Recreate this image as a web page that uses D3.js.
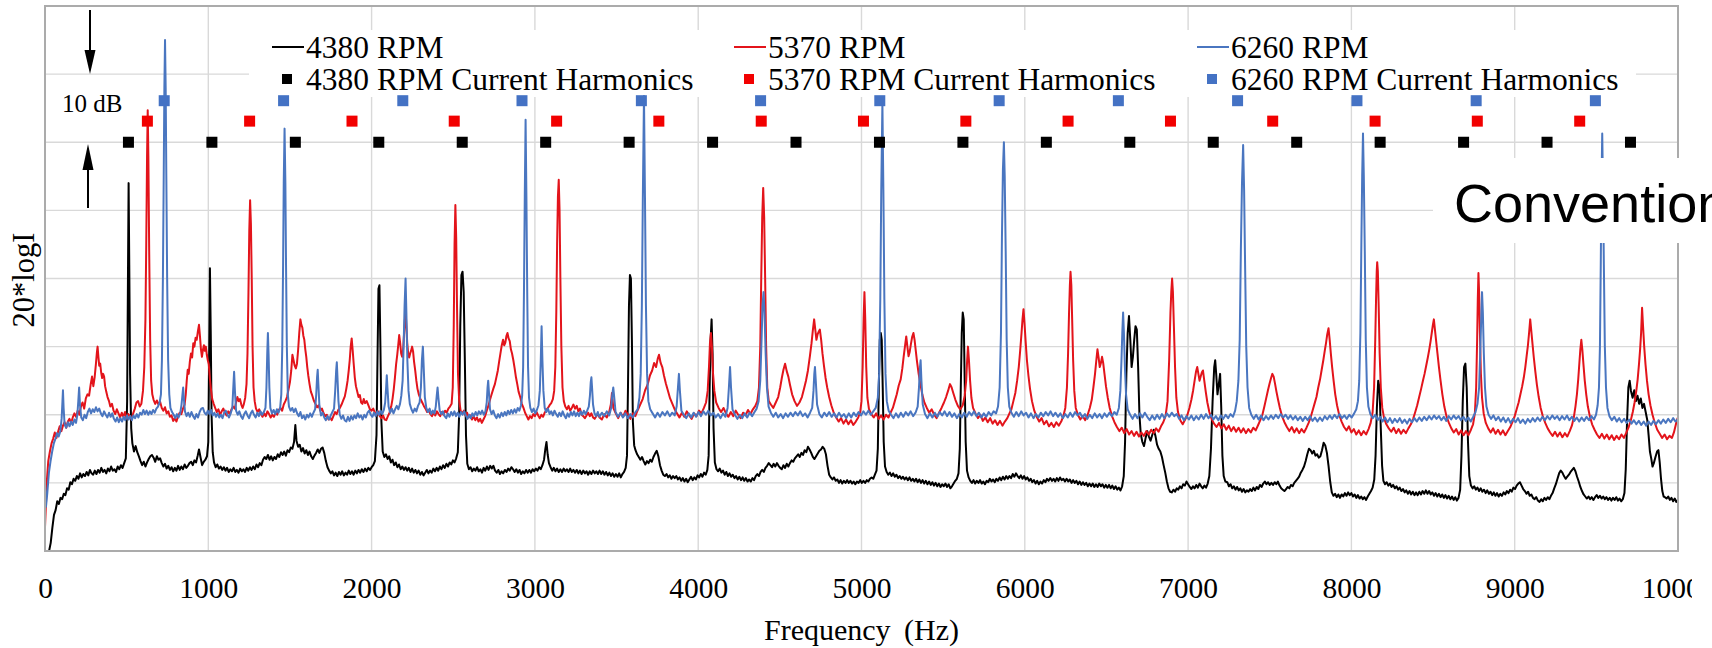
<!DOCTYPE html>
<html>
<head>
<meta charset="utf-8">
<script src="https://cdn.jsdelivr.net/npm/d3@7"></script>
<style>
  html, body { margin: 0; padding: 0; background: #fff; }
  svg { display: block; }
</style>
</head>
<body>
<script>
// ---- Data -------------------------------------------------------------
const seriesNames = ["4380 RPM", "5370 RPM", "6260 RPM"];
const harmonicNames = ["4380 RPM Current Harmonics", "5370 RPM Current Harmonics", "6260 RPM Current Harmonics"];
const xTickValues = [0, 1000, 2000, 3000, 4000, 5000, 6000, 7000, 8000, 9000, 10000];
const yGridValues = [0, 10, 20, 30, 40, 50, 60, 70, 80];

// Current-harmonic marker frequencies (Hz) and their plotted levels (dB)
const harmonics4380 = [511, 1022, 1533, 2044, 2555, 3066, 3577, 4088, 4599, 5110, 5621, 6132, 6643, 7154, 7665, 8176, 8687, 9198, 9709];
const harmonics5370 = [627, 1253, 1880, 2506, 3133, 3759, 4386, 5012, 5639, 6265, 6892, 7518, 8145, 8771, 9398];
const harmonics6260 = [730, 1461, 2191, 2921, 3652, 4382, 5112, 5843, 6573, 7303, 8034, 8764, 9494];
const harmonicLevels = [60, 63.1, 66.1];

// Spectra: [frequency Hz, 20*logI dB]
const spectrum4380 = [
[25,0],[35,1.2],[45,3.4],[55,5.3],[65,6.0],[75,7.3],[85,6.9],[95,7.8],[105,7.6],[115,8.4],[125,8.2],[135,9.2],[145,9.0],[155,10.1],[165,9.8],[175,10.6],[185,10.3],[195,11.0],[205,10.6],[215,11.4],[225,10.8],[235,11.3],[245,11.0],[255,11.6],[265,11.1],[275,11.9],[285,11.4],[295,11.2],[305,11.8],[315,11.3],[325,11.9],[335,11.5],[345,12.2],[355,11.6],[365,11.9],[375,11.4],[385,12.1],[395,11.7],[405,12.4],[415,11.8],[425,12.0],[435,11.6],[445,12.4],[455,12.0],[465,12.6],[475,12.2],[485,12.9],[495,13.6],[503,22],[508,40],[512,54],[516,42],[521,26],[528,18],[535,15.8],[545,14.6],[555,15.4],[565,14.5],[575,13.9],[585,13.2],[595,12.6],[605,13.1],[615,12.4],[625,13.0],[635,13.5],[645,13.9],[655,14.1],[665,13.7],[675,13.1],[685,13.9],[695,13.4],[705,13.6],[715,12.9],[725,12.4],[735,12.8],[745,12.1],[755,12.5],[765,11.9],[775,12.3],[785,11.7],[795,12.2],[805,11.8],[815,12.5],[825,11.9],[835,12.4],[845,12.0],[855,12.7],[865,12.2],[875,12.5],[885,12.9],[895,13.1],[905,12.6],[915,13.3],[925,13.0],[935,14.0],[943,14.9],[952,13.8],[962,12.6],[972,13.1],[982,13.4],[992,13.9],[1000,16],[1005,28],[1010,41.5],[1015,32],[1020,20],[1027,14.5],[1035,13.0],[1045,12.3],[1055,12.7],[1065,12.1],[1075,12.4],[1085,11.9],[1095,12.3],[1105,11.8],[1115,12.2],[1125,11.6],[1135,12.0],[1145,11.7],[1155,12.2],[1165,11.6],[1175,11.9],[1185,11.5],[1195,12.1],[1205,11.7],[1215,12.0],[1225,11.6],[1235,12.2],[1245,11.8],[1255,12.3],[1265,11.9],[1275,12.4],[1285,12.0],[1295,12.7],[1305,12.3],[1315,12.9],[1325,12.6],[1335,13.4],[1345,13.8],[1355,13.5],[1365,14.1],[1375,13.4],[1385,13.9],[1395,13.3],[1405,13.8],[1415,13.5],[1425,14.2],[1435,13.8],[1445,14.5],[1455,14.1],[1465,14.6],[1475,14.0],[1485,14.8],[1495,14.5],[1505,15.2],[1515,15.0],[1525,16.0],[1533,18.5],[1540,16.2],[1550,15.3],[1560,15.6],[1570,14.6],[1580,15.1],[1590,14.3],[1600,14.8],[1610,14.1],[1620,14.6],[1630,13.9],[1640,13.5],[1650,14.0],[1660,14.4],[1670,14.9],[1680,14.4],[1690,15.0],[1700,15.2],[1710,14.4],[1720,13.2],[1730,12.3],[1740,11.8],[1750,11.4],[1760,11.7],[1770,11.1],[1780,11.5],[1790,11.0],[1800,11.6],[1810,11.2],[1820,11.7],[1830,11.1],[1840,11.5],[1850,11.2],[1860,11.8],[1870,11.3],[1880,11.7],[1890,11.2],[1900,11.8],[1910,11.4],[1920,11.9],[1930,11.5],[1940,12.0],[1950,11.6],[1960,12.1],[1970,11.7],[1980,12.2],[1990,11.9],[2000,12.3],[2010,12.6],[2020,13.2],[2030,17],[2036,28],[2042,38.5],[2048,39],[2054,30],[2060,19],[2068,14.6],[2078,13.8],[2088,14.2],[2098,13.5],[2108,13.9],[2118,13.0],[2128,13.4],[2138,12.6],[2148,13.0],[2158,12.3],[2168,12.7],[2178,12.0],[2188,12.4],[2198,11.9],[2208,12.3],[2218,11.8],[2228,12.2],[2238,11.6],[2248,12.1],[2258,11.5],[2268,11.9],[2278,11.4],[2288,11.8],[2298,11.2],[2308,11.6],[2318,11.1],[2328,11.5],[2338,11.9],[2348,11.4],[2358,11.8],[2368,11.5],[2378,12.1],[2388,11.7],[2398,12.2],[2408,11.8],[2418,12.4],[2428,12.0],[2438,12.6],[2448,12.2],[2458,12.8],[2468,12.4],[2478,13.0],[2488,12.7],[2498,13.3],[2508,13.0],[2518,13.6],[2528,14.5],[2536,20],[2543,33],[2550,40.5],[2557,41],[2564,38],[2571,28],[2578,17],[2586,12.8],[2596,12.0],[2606,12.3],[2616,11.7],[2626,12.1],[2636,11.8],[2646,12.3],[2656,11.7],[2666,12.0],[2676,11.5],[2686,12.2],[2696,11.8],[2706,12.4],[2716,11.9],[2726,12.5],[2736,12.1],[2746,12.5],[2756,11.8],[2766,11.5],[2776,11.9],[2786,11.3],[2796,11.7],[2806,11.4],[2816,11.9],[2826,11.6],[2836,12.1],[2846,11.8],[2856,12.3],[2866,12.0],[2876,11.6],[2886,12.0],[2896,11.5],[2906,11.9],[2916,11.3],[2926,11.7],[2936,11.4],[2946,11.9],[2956,11.5],[2966,11.9],[2976,11.5],[2986,12.0],[2996,11.7],[3006,12.1],[3016,11.8],[3026,12.3],[3036,12.0],[3046,12.6],[3056,13.4],[3064,15.0],[3071,16.0],[3078,14.2],[3086,12.9],[3096,12.3],[3106,11.8],[3116,12.2],[3126,11.7],[3136,12.1],[3146,11.6],[3156,12.0],[3166,11.6],[3176,12.1],[3186,11.7],[3196,12.0],[3206,11.6],[3216,12.1],[3226,11.6],[3236,11.9],[3246,11.5],[3256,11.9],[3266,11.4],[3276,11.8],[3286,11.3],[3296,11.8],[3306,11.4],[3316,11.7],[3326,11.2],[3336,11.7],[3346,11.3],[3356,11.8],[3366,11.4],[3376,11.7],[3386,11.3],[3396,11.8],[3406,11.3],[3416,11.7],[3426,11.2],[3436,11.6],[3446,11.1],[3456,11.5],[3466,11.0],[3476,11.4],[3486,10.9],[3496,11.3],[3506,10.9],[3516,11.4],[3526,10.8],[3536,11.3],[3546,11.6],[3556,12.2],[3564,14],[3570,24],[3576,36],[3582,40.5],[3588,40],[3594,31],[3600,19],[3608,15.5],[3616,14.8],[3626,14.2],[3636,13.8],[3646,13.4],[3656,13.8],[3666,13.2],[3676,12.7],[3686,13.2],[3696,12.9],[3706,13.4],[3716,13.1],[3726,13.8],[3736,14.3],[3746,14.7],[3756,13.9],[3766,12.6],[3776,11.8],[3786,11.2],[3796,11.0],[3806,11.3],[3816,10.8],[3826,11.1],[3836,10.6],[3846,11.0],[3856,10.7],[3866,11.0],[3876,10.5],[3886,10.8],[3896,10.3],[3906,10.7],[3916,10.2],[3926,10.6],[3936,10.1],[3946,10.5],[3956,10.9],[3966,10.4],[3976,10.8],[3986,10.5],[3996,11.1],[4006,10.8],[4016,11.3],[4026,10.9],[4036,11.5],[4046,11.2],[4056,11.9],[4064,14],[4070,24],[4076,31],[4082,34],[4088,29],[4094,18],[4102,13.0],[4112,12.0],[4122,11.7],[4132,12.1],[4142,11.5],[4152,11.8],[4162,11.2],[4172,11.6],[4182,11.0],[4192,11.4],[4202,10.9],[4212,11.2],[4222,10.7],[4232,11.0],[4242,10.5],[4252,10.9],[4262,10.4],[4272,10.8],[4282,10.3],[4292,10.7],[4302,10.2],[4312,10.5],[4322,10.2],[4332,10.7],[4342,10.4],[4352,11.0],[4362,11.3],[4372,11.0],[4382,11.6],[4392,11.9],[4402,11.6],[4412,12.2],[4422,12.5],[4432,12.9],[4442,12.6],[4452,12.3],[4462,12.8],[4472,12.4],[4482,12.9],[4492,12.5],[4502,12.2],[4512,12.0],[4522,12.6],[4532,12.2],[4542,12.8],[4552,12.4],[4562,12.9],[4572,13.3],[4582,13.1],[4592,13.6],[4602,13.9],[4612,14.2],[4622,13.8],[4632,14.4],[4642,14.1],[4652,14.8],[4662,14.5],[4672,15.3],[4682,14.9],[4692,14.4],[4702,13.8],[4712,13.5],[4722,13.9],[4732,14.3],[4742,14.7],[4752,14.9],[4762,15.3],[4772,15.0],[4782,14.2],[4792,12.5],[4802,11.2],[4812,10.8],[4822,10.5],[4832,10.8],[4842,10.3],[4852,10.5],[4862,10.0],[4872,10.4],[4882,9.9],[4892,10.3],[4902,10.0],[4912,10.4],[4922,10.0],[4932,10.3],[4942,9.9],[4952,10.2],[4962,9.8],[4972,10.2],[4982,10.0],[4992,10.4],[5002,10.0],[5012,10.3],[5022,10.0],[5032,10.4],[5042,10.2],[5052,10.6],[5062,10.8],[5072,10.6],[5082,11.2],[5092,11.8],[5100,15],[5106,24],[5112,31],[5118,32],[5124,31],[5130,24],[5136,16],[5144,12.4],[5154,11.6],[5164,11.2],[5174,11.5],[5184,11.0],[5194,11.4],[5204,10.9],[5214,11.2],[5224,10.7],[5234,11.0],[5244,10.6],[5254,10.9],[5264,10.5],[5274,10.8],[5284,10.4],[5294,10.8],[5304,10.3],[5314,10.6],[5324,10.2],[5334,10.6],[5344,10.1],[5354,10.5],[5364,10.0],[5374,10.4],[5384,9.9],[5394,10.3],[5404,9.8],[5414,10.2],[5424,9.7],[5434,10.1],[5444,9.6],[5454,10.0],[5464,9.5],[5474,9.9],[5484,9.4],[5494,9.8],[5504,9.5],[5514,9.9],[5524,9.4],[5534,9.8],[5544,9.2],[5554,9.5],[5564,9.9],[5574,10.3],[5584,10.6],[5594,11.4],[5602,15],[5608,24],[5614,32],[5620,35],[5626,34],[5632,25],[5638,16],[5646,11.8],[5656,10.8],[5666,10.3],[5676,10.0],[5686,10.4],[5696,9.9],[5706,10.3],[5716,10.0],[5726,10.4],[5736,9.9],[5746,10.2],[5756,9.8],[5766,10.3],[5776,10.1],[5786,10.6],[5796,10.2],[5806,10.5],[5816,10.1],[5826,10.6],[5836,10.3],[5846,10.8],[5856,10.4],[5866,10.9],[5876,10.5],[5886,11.0],[5896,10.6],[5906,11.0],[5916,10.7],[5926,11.3],[5936,10.9],[5946,11.4],[5956,11.0],[5966,10.7],[5976,11.1],[5986,10.6],[5996,11.0],[6006,10.5],[6016,10.8],[6026,10.3],[6036,10.6],[6046,10.1],[6056,10.4],[6066,9.9],[6076,10.3],[6086,9.8],[6096,10.2],[6106,9.9],[6116,10.4],[6126,10.1],[6136,10.6],[6146,10.3],[6156,10.7],[6166,10.3],[6176,10.6],[6186,10.2],[6196,10.7],[6206,10.3],[6216,10.8],[6226,10.4],[6236,10.6],[6246,10.2],[6256,10.6],[6266,10.2],[6276,10.5],[6286,10.0],[6296,10.4],[6306,10.0],[6316,10.3],[6326,9.8],[6336,10.2],[6346,9.7],[6356,10.1],[6366,9.7],[6376,10.0],[6386,9.5],[6396,9.9],[6406,9.5],[6416,9.9],[6426,9.4],[6436,9.8],[6446,9.4],[6456,9.9],[6466,9.5],[6476,9.8],[6486,9.3],[6496,9.7],[6506,9.3],[6516,9.7],[6526,9.2],[6536,9.6],[6546,9.1],[6556,9.5],[6566,9.0],[6576,9.3],[6586,8.9],[6596,9.5],[6606,11],[6614,16],[6622,26],[6630,32],[6638,34.5],[6646,31],[6654,27],[6662,28.5],[6670,31],[6678,33],[6686,32.5],[6694,27],[6702,20],[6710,17.2],[6720,16.0],[6730,15.4],[6740,16.6],[6750,17.6],[6760,16.8],[6770,16.2],[6780,17.0],[6790,17.8],[6800,16.9],[6810,15.6],[6820,15.0],[6830,14.6],[6840,13.8],[6850,12.6],[6860,11.5],[6870,10.2],[6880,9.2],[6890,8.7],[6900,8.6],[6910,9.0],[6920,8.7],[6930,9.2],[6940,9.0],[6950,9.5],[6960,9.2],[6970,9.8],[6980,9.6],[6990,10.2],[7000,9.8],[7010,9.4],[7020,9.1],[7030,9.5],[7040,9.2],[7050,9.7],[7060,9.3],[7070,9.9],[7080,9.5],[7090,9.2],[7100,9.6],[7110,9.3],[7120,9.9],[7130,11],[7140,15],[7150,22],[7160,27],[7166,28],[7172,26],[7180,23],[7188,24.5],[7196,26],[7203,21],[7210,14],[7218,11],[7228,10.2],[7240,10.1],[7250,9.5],[7260,9.8],[7270,9.2],[7280,9.5],[7290,9.0],[7300,9.4],[7310,8.9],[7320,9.2],[7330,8.7],[7340,9.1],[7350,8.6],[7360,8.9],[7370,8.7],[7380,9.1],[7390,8.8],[7400,9.3],[7410,8.9],[7420,9.4],[7430,9.1],[7440,9.7],[7450,9.4],[7460,9.9],[7470,10.2],[7480,9.8],[7490,10.1],[7500,9.7],[7510,10.0],[7520,9.7],[7530,10.1],[7540,9.8],[7550,10.2],[7560,9.6],[7570,9.2],[7580,9.0],[7590,8.8],[7600,9.1],[7610,9.4],[7620,9.2],[7630,9.7],[7640,9.5],[7650,10.0],[7660,10.3],[7670,10.6],[7680,10.9],[7690,11.5],[7700,11.9],[7710,12.4],[7720,13.2],[7730,14.2],[7740,15.0],[7750,14.8],[7760,14.3],[7770,14.7],[7780,14.0],[7790,14.2],[7800,13.7],[7810,13.9],[7820,14.8],[7830,15.9],[7840,15.5],[7850,14.4],[7860,12.5],[7870,10.2],[7880,8.6],[7890,8.1],[7900,8.4],[7910,7.9],[7920,8.3],[7930,7.8],[7940,8.3],[7950,8.0],[7960,8.5],[7970,8.1],[7980,8.6],[7990,8.2],[8000,8.5],[8010,8.0],[8020,8.3],[8030,7.8],[8040,8.2],[8050,7.7],[8060,8.0],[8070,7.6],[8080,7.9],[8090,7.5],[8100,8.0],[8110,8.4],[8120,8.8],[8130,9.3],[8140,10.5],[8148,14],[8156,21],[8164,25],[8172,24],[8180,18],[8188,12.5],[8196,10.3],[8206,9.8],[8216,10.1],[8226,9.6],[8236,9.9],[8246,9.4],[8256,9.7],[8266,9.2],[8276,9.5],[8286,9.0],[8296,9.3],[8306,8.8],[8316,9.1],[8326,8.6],[8336,8.9],[8346,8.4],[8356,8.8],[8366,8.3],[8376,8.7],[8386,8.2],[8396,8.6],[8406,8.2],[8416,8.7],[8426,8.3],[8436,8.8],[8446,8.4],[8456,8.9],[8466,8.4],[8476,8.8],[8486,8.3],[8496,8.6],[8506,8.1],[8516,8.5],[8526,8.0],[8536,8.4],[8546,7.9],[8556,8.3],[8566,7.8],[8576,8.2],[8586,7.7],[8596,8.1],[8606,7.6],[8616,8.0],[8626,7.5],[8636,7.9],[8646,7.4],[8656,7.8],[8666,9],[8674,14],[8682,22],[8690,27],[8698,27.5],[8706,24],[8714,16],[8722,11],[8732,9.6],[8742,9.2],[8752,9.5],[8762,9.0],[8772,9.3],[8782,8.8],[8792,9.2],[8802,8.7],[8812,9.0],[8822,8.5],[8832,8.9],[8842,8.4],[8852,8.7],[8862,8.2],[8872,8.6],[8882,8.1],[8892,8.5],[8902,8.0],[8912,8.4],[8922,8.1],[8932,8.6],[8942,8.3],[8952,8.8],[8962,8.5],[8972,9.0],[8982,8.7],[8992,9.3],[9002,9.1],[9012,9.6],[9022,9.9],[9032,10.1],[9042,9.6],[9052,9.1],[9062,8.8],[9072,8.4],[9082,8.7],[9092,8.1],[9102,8.3],[9112,7.8],[9122,7.6],[9132,7.9],[9142,7.4],[9152,7.2],[9162,7.6],[9172,7.3],[9182,7.8],[9192,7.5],[9202,7.9],[9212,7.6],[9222,8.1],[9232,8.5],[9242,9.2],[9252,9.8],[9262,10.6],[9272,11.4],[9282,11.8],[9292,11.5],[9302,11.0],[9312,10.6],[9322,10.9],[9332,11.2],[9342,11.6],[9352,11.9],[9362,12.2],[9372,11.7],[9382,10.9],[9392,10.2],[9402,9.4],[9412,8.8],[9422,8.3],[9432,8.0],[9442,7.7],[9452,8.0],[9462,7.6],[9472,7.9],[9482,7.5],[9492,7.9],[9502,8.2],[9512,7.8],[9522,8.1],[9532,7.7],[9542,8.0],[9552,7.6],[9562,7.9],[9572,7.5],[9582,7.8],[9592,7.4],[9602,7.8],[9612,7.5],[9622,7.9],[9632,7.4],[9642,7.7],[9652,7.3],[9662,7.6],[9672,8.5],[9680,12],[9688,19],[9696,24],[9704,25],[9712,23.5],[9722,22.5],[9732,23.6],[9742,22.0],[9752,22.8],[9762,21.6],[9772,22.4],[9782,21.0],[9792,21.6],[9802,20.4],[9812,19.2],[9820,17.0],[9828,14.6],[9836,13.6],[9844,12.4],[9852,12.9],[9862,13.8],[9872,14.6],[9880,14.8],[9888,13.0],[9896,10.6],[9904,8.8],[9912,8.0],[9920,7.9],[9930,7.7],[9940,8.0],[9950,7.5],[9960,7.8],[9970,7.3],[9980,7.7],[9990,7.2],[10000,7.5]
];

const spectrum5370 = [
[0,3.5],[6,7],[12,10.5],[20,13.2],[30,14.6],[40,15.8],[50,16.5],[60,17.4],[70,16.6],[80,17.5],[90,18.3],[100,17.6],[110,18.4],[120,18.9],[130,18.1],[140,19.0],[150,19.4],[160,18.8],[170,19.6],[180,20.2],[190,19.7],[200,20.6],[210,20.0],[220,21.2],[230,21.8],[240,20.9],[250,22.4],[260,23.0],[270,22.8],[280,24.5],[288,25.6],[296,24.2],[304,25.5],[312,27.5],[318,29.2],[322,30.0],[327,28.5],[332,27.2],[338,27.5],[344,26.2],[350,25.4],[356,26.0],[362,25.6],[368,24.2],[375,23.4],[383,22.6],[392,22.0],[400,21.2],[410,21.6],[420,20.6],[430,20.1],[440,20.8],[450,20.2],[460,19.6],[470,20.3],[480,19.7],[490,20.4],[500,19.4],[510,20.1],[520,19.8],[530,19.3],[540,20.2],[550,20.9],[560,21.8],[570,22.0],[580,21.2],[590,21.6],[600,23.5],[608,27],[615,34],[620,45],[625,58],[629,64.7],[633,58],[638,44],[644,31],[650,25],[657,23],[665,22.2],[675,21.6],[685,22.1],[695,21.5],[705,21.9],[715,21.0],[725,20.6],[735,21.1],[745,20.2],[755,20.5],[765,19.7],[775,19.9],[785,19.1],[795,19.5],[805,19.0],[815,19.8],[825,20.3],[835,20.1],[845,20.9],[855,21.5],[862,23.0],[868,25.0],[874,26.6],[880,26.0],[887,27.8],[894,29.0],[901,28.4],[908,30.5],[915,30.0],[922,31.3],[929,31.0],[936,32.2],[943,33.2],[949,31.5],[955,29.6],[961,28.5],[967,29.5],[973,30.2],[979,29.4],[985,30.0],[991,28.8],[997,28.0],[1003,27.4],[1009,25.5],[1016,23.8],[1024,22.3],[1033,21.6],[1042,21.0],[1052,20.4],[1062,20.8],[1072,20.0],[1082,20.5],[1092,20.9],[1102,20.3],[1112,19.9],[1122,20.5],[1132,20.1],[1142,20.8],[1152,21.2],[1162,20.9],[1170,21.8],[1178,22.6],[1186,22.0],[1194,22.3],[1202,21.5],[1210,21.0],[1218,21.6],[1226,22.5],[1234,24.5],[1240,29],[1246,38],[1251,47],[1256,51.5],[1261,48],[1266,40],[1271,30],[1277,24],[1284,22],[1292,20.9],[1302,20.4],[1312,20.8],[1322,20.1],[1332,19.7],[1342,20.2],[1352,19.8],[1362,20.5],[1372,20.1],[1382,19.6],[1392,20.0],[1402,19.7],[1412,20.3],[1422,20.0],[1432,20.7],[1442,21.0],[1452,20.6],[1462,21.5],[1472,22.0],[1482,22.6],[1492,23.8],[1500,24.8],[1508,26.5],[1515,28.8],[1522,28.0],[1529,27.2],[1536,26.8],[1543,27.5],[1550,29.5],[1557,32.0],[1564,34.0],[1570,33.2],[1576,32.8],[1582,31.6],[1588,31.0],[1594,29.6],[1600,28.5],[1606,27.0],[1612,25.8],[1620,24.5],[1628,23.4],[1637,22.8],[1646,22.1],[1656,21.6],[1666,21.1],[1676,21.4],[1686,20.6],[1696,20.9],[1706,20.2],[1716,19.8],[1726,20.0],[1736,19.3],[1746,19.6],[1756,19.2],[1766,19.8],[1776,20.4],[1786,20.1],[1796,20.7],[1806,21.0],[1816,21.5],[1826,22.1],[1836,22.7],[1845,23.8],[1853,25.0],[1860,26.5],[1866,28.0],[1872,30.0],[1878,31.2],[1884,29.5],[1890,27.6],[1897,25.5],[1904,24.2],[1912,23.4],[1920,22.6],[1928,22.9],[1936,21.8],[1944,21.6],[1952,22.3],[1960,21.7],[1970,22.0],[1980,21.4],[1990,20.8],[2000,20.6],[2010,20.9],[2020,20.3],[2030,20.0],[2040,20.5],[2050,19.8],[2060,19.5],[2070,19.9],[2080,19.3],[2090,19.2],[2100,19.8],[2110,20.3],[2120,21.2],[2128,22.3],[2136,23.8],[2143,25.5],[2150,27.4],[2157,28.8],[2163,30.2],[2169,31.7],[2175,30.5],[2181,29.0],[2187,28.5],[2193,29.6],[2199,32.0],[2204,34.0],[2208,35.4],[2213,33.0],[2218,30.6],[2224,29.0],[2230,28.4],[2236,29.0],[2242,29.4],[2248,30.0],[2254,29.3],[2260,27.8],[2267,26.5],[2274,25.0],[2281,23.8],[2290,22.9],[2300,22.3],[2310,21.8],[2320,21.3],[2330,20.9],[2340,20.4],[2350,20.7],[2360,20.1],[2370,19.8],[2380,20.3],[2390,19.9],[2400,20.5],[2410,20.1],[2420,19.8],[2430,20.4],[2440,20.0],[2450,20.6],[2460,20.3],[2470,20.9],[2480,21.2],[2490,21.6],[2497,24],[2503,33],[2508,45],[2513,50.8],[2518,46],[2523,36],[2529,26],[2536,22.2],[2545,20.6],[2555,20.2],[2565,20.6],[2575,19.9],[2585,20.3],[2595,19.6],[2605,19.9],[2615,19.3],[2625,19.8],[2635,19.2],[2645,19.6],[2655,19.0],[2665,19.4],[2675,18.8],[2685,19.3],[2695,19.8],[2705,20.6],[2715,21.3],[2725,22.2],[2735,23.0],[2745,23.8],[2755,24.5],[2765,25.6],[2773,26.5],[2781,27.8],[2789,29.0],[2797,30.2],[2805,31.0],[2812,30.2],[2819,30.6],[2826,31.6],[2832,32.0],[2839,31.2],[2846,30.8],[2853,29.6],[2860,29.0],[2868,28.0],[2876,26.8],[2884,25.5],[2892,24.5],[2900,23.4],[2910,22.6],[2920,21.6],[2930,21.0],[2940,20.3],[2950,19.8],[2960,19.3],[2970,19.8],[2980,19.5],[2990,20.1],[3000,19.8],[3010,20.4],[3020,19.9],[3030,19.5],[3040,20.0],[3050,19.7],[3060,20.3],[3070,20.7],[3080,21.0],[3090,21.4],[3100,21.7],[3110,22.3],[3118,23.5],[3125,27],[3131,35],[3136,45],[3141,52],[3146,54.5],[3151,50],[3156,40],[3162,30],[3169,24],[3177,22.0],[3186,21.2],[3196,20.8],[3206,21.3],[3216,20.6],[3226,21.0],[3236,21.5],[3246,20.9],[3256,21.3],[3266,20.5],[3276,20.9],[3286,20.0],[3296,19.8],[3306,19.5],[3316,19.9],[3326,20.3],[3336,19.8],[3346,20.2],[3356,19.6],[3366,19.4],[3376,19.8],[3386,20.1],[3396,19.6],
[3410,19.3],[3425,20.1],[3440,19.6],[3455,20.4],[3465,21.5],[3472,23.2],[3480,21.0],[3495,20.2],[3510,19.5],[3525,20.3],[3540,19.7],[3555,20.6],[3570,20.0],[3585,19.4],[3600,20.2],[3615,19.8],[3630,20.7],[3645,21.5],[3660,22.3],[3675,23.6],[3690,24.4],[3705,25.8],[3718,26.5],[3730,27.6],[3742,27.0],[3752,28.2],[3760,28.8],[3770,27.6],[3780,27.0],[3790,25.8],[3802,24.6],[3815,23.5],[3828,22.4],[3842,21.6],[3856,20.8],[3870,20.2],[3885,19.6],[3900,20.3],[3915,19.7],[3930,20.5],[3945,19.9],[3960,19.4],[3975,20.2],[3990,19.8],[4005,20.6],[4020,20.2],[4035,21.0],[4048,21.8],[4058,23.5],[4066,27],[4072,30.5],[4078,32],[4084,30],[4091,26],[4099,23.5],[4110,21.8],[4125,21.0],[4140,20.4],[4155,21.0],[4170,20.2],[4185,19.7],[4200,20.4],[4215,19.8],[4230,20.6],[4245,20.0],[4260,19.5],[4275,20.3],[4290,19.9],[4305,20.7],[4320,20.1],[4335,20.8],[4350,21.3],[4362,22.0],[4372,24],[4380,30],[4386,40],[4392,49],[4398,53.3],[4404,49],[4410,40],[4416,30],[4423,24],[4432,22.0],[4445,21.5],[4460,21.0],[4475,21.8],[4490,22.6],[4502,24.0],[4512,25.4],[4522,26.6],[4532,27.5],[4542,26.4],[4552,25.6],[4562,24.4],[4575,23.0],[4590,22.0],[4605,21.3],[4620,21.8],[4635,22.6],[4648,23.8],[4660,25.0],[4672,26.5],[4684,28.6],[4694,30.5],[4702,32.4],[4710,34.0],[4717,32.5],[4724,31.0],[4731,31.8],[4738,32.2],[4745,32.5],[4753,31.0],[4761,29.0],[4770,27.2],[4780,25.4],[4790,24.0],[4802,22.6],[4815,21.4],[4830,20.3],[4845,19.6],[4860,19.0],[4875,19.5],[4890,18.7],[4905,19.3],[4920,18.6],[4935,19.2],[4950,18.5],[4965,19.0],[4980,19.6],[4992,20.4],[5000,22],[5007,27],[5013,34],[5018,38],[5023,34],[5029,27],[5036,22.5],[5046,20.8],[5060,20.1],[5075,19.6],[5090,20.2],[5105,19.4],[5120,19.9],[5135,19.3],[5150,20.0],[5165,19.6],[5180,20.4],[5192,21.0],[5204,22.0],[5216,23.0],[5228,24.3],[5240,25.2],[5250,26.8],[5258,28.5],[5266,30.0],[5274,31.5],[5281,30.0],[5288,28.6],[5295,29.2],[5302,30.3],[5310,31.4],[5318,32.0],[5325,31.0],[5332,29.5],[5340,27.8],[5350,26.0],[5360,24.6],[5372,23.0],[5385,21.8],[5400,21.0],[5415,20.3],[5430,20.8],[5445,20.0],[5460,19.5],[5475,20.3],[5490,21.0],[5505,21.8],[5518,22.6],[5530,23.5],[5542,24.5],[5552,24.0],[5562,23.2],[5575,22.2],[5590,21.3],[5605,20.8],[5620,21.4],[5632,22.8],[5641,25],[5647,28],[5652,30],[5658,28],[5665,25],[5673,22.5],[5683,21.0],[5698,20.2],[5713,19.5],[5728,20.0],[5743,19.1],[5758,19.6],[5773,18.9],[5788,19.5],[5803,18.7],[5818,19.2],[5833,18.5],[5848,19.1],[5863,18.4],[5878,19.0],[5893,19.5],[5906,20.2],[5918,20.8],[5930,22.0],[5942,23.2],[5953,25.0],[5963,27.0],[5972,29.5],[5980,32.0],[5986,34.0],[5992,35.5],[5998,33.5],[6005,30.8],[6013,28.0],[6022,25.8],[6032,23.8],[6044,22.0],[6058,20.6],[6073,19.7],[6088,19.0],[6103,19.5],[6118,18.6],[6133,19.1],[6148,18.3],[6163,18.8],[6178,18.2],[6193,18.9],[6208,18.4],[6223,19.0],[6236,19.8],[6248,21.0],[6258,24],[6265,29],[6271,35],[6276,39],[6280,41],[6285,39],[6290,34],[6296,28],[6303,23.5],[6312,21.0],[6325,20.0],[6340,19.3],[6355,19.8],[6370,19.2],[6385,20.0],[6398,21.0],[6410,22.2],[6420,24.0],[6430,26.0],[6438,28.0],[6445,29.6],[6452,28.4],[6459,27.0],[6466,27.6],[6473,28.5],[6480,27.6],[6488,26.0],[6497,24.2],[6508,22.5],[6520,21.0],[6534,19.8],[6549,18.9],[6564,18.2],[6579,17.6],[6594,18.1],[6609,17.3],[6624,17.9],[6639,17.1],[6654,17.6],[6669,16.9],[6684,17.5],[6699,16.8],[6714,17.4],[6729,16.9],[6744,17.6],[6759,17.1],[6774,17.8],[6789,17.3],[6804,18.0],[6819,17.5],[6834,18.3],[6848,18.9],[6862,19.8],[6874,22],[6884,28],[6892,35],[6897,38],[6902,40],[6907,38],[6913,33],[6920,27],[6928,22.5],[6938,20.4],[6952,19.2],[6967,18.6],[6982,19.3],[6996,20.0],[7008,21.0],[7020,22.2],[7031,23.6],[7041,25.2],[7049,26.4],[7056,27.0],[7063,26.0],[7070,25.0],[7077,25.6],[7084,26.2],[7091,26.5],[7099,25.0],[7108,23.4],[7118,21.8],[7130,20.4],[7144,19.4],[7159,18.7],[7174,18.2],[7189,18.8],[7204,18.0],[7219,18.6],[7234,17.8],[7249,18.4],[7264,17.6],[7279,18.2],[7294,17.5],[7309,18.1],[7324,17.4],[7339,18.0],[7354,17.3],[7369,17.9],[7384,17.4],[7399,18.1],[7414,17.7],[7429,18.5],[7442,19.2],[7455,20.0],[7467,21.2],[7478,22.4],[7489,23.6],[7499,24.6],[7508,25.4],[7516,26.0],[7524,25.6],[7532,24.6],[7541,23.4],[7551,22.2],[7562,21.0],[7575,19.8],[7590,18.9],[7605,18.2],[7620,17.6],[7635,18.2],[7650,17.4],[7665,18.0],[7680,17.3],[7695,17.9],[7710,17.4],[7725,18.1],[7738,18.8],[7750,19.6],[7762,20.6],[7774,21.6],[7786,22.6],[7797,24.0],[7808,25.2],[7818,26.6],[7828,28.0],[7837,29.4],[7845,30.6],[7852,31.8],[7860,32.7],[7867,31.0],[7874,29.0],[7882,27.0],[7891,25.0],[7901,23.0],[7912,21.4],[7925,20.0],[7940,19.0],[7955,18.2],[7970,17.7],[7985,18.3],[8000,17.4],[8015,17.9],[8030,17.1],[8045,17.7],[8060,17.0],[8075,17.6],[8090,17.1],[8105,17.9],[8118,18.8],[8130,20.4],[8139,24],[8146,31],[8151,37],[8155,41],[8158,42.4],[8162,41],[8167,36],[8173,29],[8180,24],[8189,21.0],[8200,19.5],[8214,18.6],[8229,18.0],[8244,17.5],[8259,18.1],[8274,17.3],[8289,17.9],[8304,17.2],[8319,17.8],[8334,17.3],[8349,18.0],[8364,18.6],[8378,19.4],[8391,20.4],[8403,21.4],[8415,22.6],[8427,23.8],[8438,25.0],[8448,26.0],[8458,27.2],[8468,28.4],[8477,29.6],[8485,30.8],[8492,32.0],[8499,33.2],[8505,34.0],[8512,32.4],[8519,30.8],[8527,29.0],[8536,27.0],[8546,25.0],[8557,23.0],[8569,21.2],[8582,19.8],[8597,18.8],[8612,18.0],[8627,17.4],[8642,17.9],[8657,17.1],[8672,17.7],[8687,17.0],[8702,17.6],[8717,17.0],[8732,17.8],[8745,18.6],[8756,20.2],[8764,24],[8770,31],[8774,37],[8778,40.8],[8782,38],[8787,32],[8793,26],[8800,22.5],[8810,20.2],[8823,18.8],[8838,18.0],[8853,17.4],[8868,18.0],[8883,17.2],[8898,17.8],[8913,17.1],[8928,17.7],[8943,17.0],[8958,17.6],[8973,18.2],[8987,19.0],[9000,19.8],[9012,20.8],[9024,21.8],[9035,23.0],[9046,24.2],[9056,25.5],[9065,27.0],[9073,28.6],[9081,30.2],[9088,32.0],[9095,34.0],[9102,32.2],[9109,30.4],[9117,28.4],[9126,26.4],[9136,24.4],[9147,22.6],[9159,21.0],[9172,19.8],[9187,18.8],[9202,18.0],[9217,17.4],[9232,16.9],[9247,17.5],[9262,16.8],[9277,17.4],[9292,16.7],[9307,17.3],[9322,16.8],[9337,17.6],[9350,18.4],[9362,19.6],[9372,21.2],[9381,23.0],[9389,25.2],[9396,27.6],[9402,29.6],[9408,31.0],[9414,29.6],[9421,27.4],[9429,25.0],[9438,23.0],[9448,21.2],[9460,19.8],[9474,18.6],[9489,17.8],[9504,17.1],[9519,16.6],[9534,17.2],[9549,16.5],[9564,17.1],[9579,16.4],[9594,17.0],[9609,16.3],[9624,16.9],[9639,16.4],[9654,17.1],[9669,16.6],[9684,17.4],[9698,18.2],[9711,19.2],[9723,20.4],[9734,21.8],[9744,23.4],[9753,25.2],[9761,27.4],[9768,29.6],[9774,32.0],[9780,35.7],[9786,33.0],[9793,30.0],[9801,27.4],[9810,25.0],[9820,23.0],[9831,21.4],[9844,20.0],[9858,18.8],[9873,17.8],[9888,17.2],[9903,16.6],[9918,17.1],[9933,16.4],[9948,16.9],[9963,16.6],[9975,17.4],[9985,18.4],[9993,19.2],[10000,19.6]
];

const spectrum6260 = [
[0,10],[6,6.5],[14,8.5],[24,11.5],[34,13.2],[44,14.6],[54,15.8],[64,16.5],[74,17.3],[84,16.8],[94,17.6],[102,19.5],[107,22],[110,23.6],[114,21],[120,18.6],[130,18.1],[140,18.9],[150,18.3],[160,19.0],[170,18.5],[180,19.3],[190,18.8],[198,20.0],[204,22],[209,24.0],[214,21.5],[222,19.6],[232,19.2],[242,20.0],[252,19.5],[262,20.4],[272,20.9],[282,20.2],[292,20.8],[302,20.4],[312,21.1],[322,20.5],[332,20.9],[342,20.2],[352,19.8],[362,20.5],[372,20.0],[382,19.6],[392,20.3],[402,19.7],[412,20.2],[422,19.4],[432,19.0],[442,19.6],[452,18.9],[462,19.5],[472,19.0],[482,19.7],[492,19.2],[502,19.9],[512,19.3],[522,19.8],[532,19.2],[542,19.9],[552,19.5],[562,20.1],[572,19.6],[582,20.3],[592,20.0],[602,20.7],[612,20.1],[622,20.6],[632,20.0],[642,20.5],[652,20.1],[662,20.7],[672,20.3],[682,20.9],[692,21.2],[702,21.8],[710,23],[716,28],[722,40],[727,55],[731,68],[735,75],[739,68],[743,55],[748,40],[754,28],[761,23],[768,21.0],[778,20.4],[788,20.0],[798,19.5],[808,20.1],[818,19.6],[828,20.2],[836,21.5],[842,23.0],[846,24.0],[850,22.5],[857,20.5],[867,19.8],[877,20.3],[887,19.7],[897,20.4],[907,19.8],[917,19.4],[927,20.1],[937,19.6],[947,20.4],[957,20.9],[967,21.0],[977,20.3],[987,20.0],[997,20.6],[1007,20.1],[1017,20.7],[1027,19.9],[1037,20.3],[1047,19.7],[1057,20.2],[1067,19.6],[1077,20.0],[1087,19.5],[1097,20.3],[1107,20.6],[1117,20.0],[1127,19.6],[1137,20.2],[1147,21.0],[1152,23.5],[1158,26.3],[1163,23.5],[1170,20.6],[1180,20.0],[1190,20.5],[1200,19.8],[1210,19.4],[1220,20.1],[1230,20.5],[1240,19.9],[1250,19.5],[1260,20.2],[1270,20.6],[1280,20.0],[1290,19.6],[1300,20.3],[1310,19.8],[1320,20.5],[1330,20.0],[1340,20.4],[1350,21.0],[1356,24],[1361,29],[1365,32.0],[1369,29],[1374,24],[1380,21.0],[1390,20.2],[1400,20.7],[1410,20.1],[1420,20.8],[1430,20.3],[1440,21.0],[1447,23],[1453,30],[1458,42],[1462,54],[1467,62],[1472,54],[1476,42],[1481,30],[1487,23],[1494,21.2],[1504,20.6],[1514,21.0],[1524,20.4],[1534,20.9],[1544,20.2],[1554,19.8],[1564,20.4],[1574,19.5],[1584,19.9],[1594,19.3],[1604,20.0],[1614,19.6],[1624,20.2],[1634,19.7],[1644,20.3],[1654,20.8],[1661,23],[1666,25.5],[1670,26.6],[1674,24.5],[1680,21.5],[1690,19.9],[1700,20.3],[1710,19.6],[1720,19.2],[1730,19.8],[1740,19.3],[1750,19.9],[1760,20.4],[1770,20.9],[1777,23.5],[1783,26.5],[1787,27.7],[1791,25.5],[1797,22.0],[1805,20.0],[1815,19.4],[1825,19.9],[1835,19.2],[1845,19.0],[1855,19.7],[1865,19.1],[1875,19.8],[1885,19.3],[1895,19.9],[1905,19.5],[1915,20.2],[1925,19.6],[1935,19.9],[1945,19.3],[1955,20.0],[1965,19.6],[1975,20.3],[1985,20.6],[1995,20.0],[2005,19.7],[2015,20.3],[2025,19.8],[2035,20.5],[2045,20.0],[2055,20.6],[2065,20.1],[2075,20.7],[2083,21.8],[2089,24.0],[2093,25.8],[2097,24.0],[2104,21.2],[2114,20.3],[2124,20.9],[2134,20.2],[2144,20.8],[2154,21.3],[2164,20.8],[2174,21.6],[2182,22.8],[2190,25.0],[2196,30],[2202,36],[2208,40.0],[2213,35],[2219,28],[2226,23.5],[2234,21.6],[2244,20.8],[2254,20.3],[2264,20.9],[2274,20.5],[2284,21.3],[2294,21.8],[2302,24],[2308,28],[2314,30.0],[2319,27],[2326,22.6],[2335,21.0],[2345,20.4],[2355,20.9],[2365,20.1],[2375,20.6],[2385,20.2],[2393,21.2],[2399,22.8],[2404,24.0],[2409,22.5],[2417,20.6],[2427,20.1],[2437,20.5],[2447,19.8],[2457,19.5],[2467,20.2],[2477,19.7],[2487,20.4],[2497,19.9],[2507,20.5],[2517,19.8],[2527,20.3],[2537,19.7],[2547,20.4],[2557,20.0],[2567,20.5],[2577,19.9],[2587,19.4],[2597,20.0],[2607,19.5],[2617,20.2],[2627,19.8],[2637,20.4],[2647,19.9],[2657,20.5],[2667,20.1],[2677,20.6],[2687,20.0],[2697,20.5],[2705,21.8],[2710,24.0],[2714,25.0],[2718,23.5],[2725,20.8],[2735,20.1],[2745,20.6],[2755,19.9],[2765,19.5],[2775,20.1],[2785,19.6],[2795,20.3],[2805,19.8],[2815,20.4],[2825,19.9],[2835,20.6],[2845,20.1],[2855,20.7],[2865,20.2],[2875,20.8],[2885,20.3],[2895,21.0],[2905,20.6],[2915,21.4],[2922,22.8],[2928,27],[2933,38],[2938,52],[2943,63.3],[2948,52],[2953,38],[2958,27],[2964,22.5],[2972,21.0],[2982,20.4],[2992,20.9],[3002,20.2],[3012,20.7],[3022,21.4],[3030,23.5],[3036,28],[3041,33.0],[3046,28],[3052,23.5],[3060,21.0],[3070,20.4],[3080,20.9],[3090,20.1],[3100,20.5],[3110,19.9],[3120,20.6],[3130,20.1],[3140,19.7],[3150,20.3],[3160,19.8],[3170,20.5],[3180,19.9],[3190,19.5],[3200,20.2],[3210,19.7],[3220,20.4],[3230,19.9],[3240,20.5],[3250,19.8],[3260,20.3],[3270,19.8],[3280,20.5],[3290,20.0],[3300,20.6],[3310,20.1],[3320,20.6],[3330,21.2],[3337,22.8],[3342,24.8],[3346,25.5],[3350,24.0],[3356,21.5],[3365,20.2],[3375,19.8],[3385,20.4],[3395,19.7],
[3410,20.3],[3425,19.8],[3440,20.5],[3455,19.9],[3467,21.0],[3474,23.0],[3480,24.0],[3486,22.5],[3494,20.4],[3509,19.7],[3524,20.3],[3539,19.6],[3554,20.2],[3569,19.5],[3584,20.1],[3599,19.6],[3614,20.3],[3629,20.8],[3640,22.5],[3648,26],[3655,36],[3661,52],[3668,66.8],[3674,52],[3680,36],[3687,26],[3695,22.0],[3706,20.8],[3721,20.2],[3736,19.6],[3751,20.3],[3766,19.7],[3781,20.4],[3796,19.9],[3811,20.5],[3826,19.8],[3841,20.3],[3856,19.9],[3868,21.2],[3876,24.0],[3882,26.0],[3888,23.5],[3897,20.6],[3912,20.0],[3927,19.5],[3942,20.2],[3957,19.6],[3972,20.3],[3987,19.7],[4002,20.4],[4017,19.8],[4032,20.5],[4047,20.0],[4062,20.6],[4077,19.9],[4092,20.3],[4107,19.6],[4122,20.1],[4137,19.5],[4152,20.2],[4167,19.7],[4180,21.0],[4188,24.0],[4195,27.0],[4201,24.0],[4210,20.8],[4225,20.0],[4240,19.4],[4255,20.0],[4270,19.5],[4285,20.2],[4300,19.6],[4315,20.3],[4330,19.8],[4345,20.4],[4358,20.9],[4370,22.0],[4380,25],[4388,31],[4394,36],[4400,38],[4406,35],[4413,29],[4421,24],[4431,21.2],[4445,20.3],[4460,19.7],[4475,20.3],[4490,19.6],[4505,20.1],[4520,19.5],[4535,20.2],[4550,19.7],[4565,20.3],[4580,19.8],[4595,20.4],[4610,19.9],[4625,20.5],[4640,19.8],[4655,20.2],[4670,19.6],[4685,20.3],[4698,21.0],[4706,23.5],[4711,26],[4715,27],[4720,25],[4728,21.5],[4742,20.1],[4757,19.6],[4772,20.3],[4787,19.8],[4802,20.4],[4817,19.7],[4832,20.2],[4847,19.6],[4862,20.3],[4877,19.7],[4892,20.1],[4907,19.5],[4922,20.2],[4937,19.6],[4952,20.3],[4967,19.8],[4982,20.4],[4997,19.9],[5012,20.5],[5027,20.0],[5042,20.6],[5057,20.0],[5072,20.5],[5087,21.0],[5100,22.5],[5108,26],[5115,37],[5121,53],[5128,65.8],[5134,53],[5140,37],[5147,26],[5155,22.0],[5166,20.6],[5181,20.0],[5196,19.5],[5211,20.2],[5226,19.6],[5241,20.3],[5256,19.7],[5271,20.4],[5286,19.9],[5301,20.5],[5316,19.8],[5331,20.3],[5344,21.2],[5352,24.0],[5358,27],[5362,28],[5367,25],[5375,21.5],[5389,20.1],[5404,19.5],[5419,20.2],[5434,19.6],[5449,20.3],[5464,19.7],[5479,20.4],[5494,19.9],[5509,20.5],[5524,19.8],[5539,20.4],[5554,19.7],[5569,20.2],[5584,19.5],[5599,20.1],[5614,19.6],[5629,20.3],[5644,19.7],[5659,20.4],[5674,19.9],[5689,20.5],[5704,19.8],[5719,20.3],[5734,19.6],[5749,20.2],[5764,19.7],[5779,20.4],[5794,19.9],[5809,20.5],[5824,20.2],[5836,21.2],[5846,24],[5854,32],[5860,46],[5866,56],[5872,60.0],[5877,55],[5883,44],[5889,31],[5896,24],[5905,21.2],[5918,20.3],[5933,19.7],[5948,20.4],[5963,19.8],[5978,20.5],[5993,19.9],[6008,20.3],[6023,19.6],[6038,20.2],[6053,19.5],[6068,20.1],[6083,19.6],[6098,20.3],[6113,19.8],[6128,20.4],[6143,19.9],[6158,20.5],[6173,19.8],[6188,20.3],[6203,19.7],[6218,20.2],[6233,19.5],[6248,20.1],[6263,19.6],[6278,20.3],[6293,19.7],[6308,20.4],[6323,19.9],[6338,20.3],[6353,19.6],[6368,20.1],[6383,19.4],[6398,20.0],[6413,19.5],[6428,20.2],[6443,19.6],[6458,20.1],[6473,19.5],[6488,20.2],[6503,19.7],[6518,20.3],[6533,19.8],[6548,20.4],[6563,20.0],[6576,21.0],[6585,23.5],[6592,28],[6597,32],[6602,35],[6607,32],[6613,27],[6620,23],[6630,20.8],[6645,20.0],[6660,19.4],[6675,20.1],[6690,19.5],[6705,20.2],[6720,19.6],[6735,20.3],[6750,19.7],[6765,19.2],[6780,19.9],[6795,19.3],[6810,20.0],[6825,19.4],[6840,20.1],[6855,19.5],[6870,20.2],[6885,19.7],[6900,20.3],[6915,19.8],[6930,20.1],[6945,19.4],[6960,19.9],[6975,19.2],[6990,19.8],[7005,19.3],[7020,19.9],[7035,19.2],[7050,19.8],[7065,19.3],[7080,20.0],[7095,19.4],[7110,20.1],[7125,19.5],[7140,20.0],[7155,19.3],[7170,19.8],[7185,19.2],[7200,19.9],[7215,19.4],[7230,20.0],[7245,19.5],[7260,20.1],[7275,19.7],[7288,20.6],[7298,22.0],[7308,25],[7316,31],[7323,44],[7330,54],[7337,59.6],[7343,53],[7349,42],[7356,30],[7364,24],[7374,21.0],[7387,20.0],[7402,19.4],[7417,20.0],[7432,19.3],[7447,19.9],[7462,19.2],[7477,19.8],[7492,19.3],[7507,19.9],[7522,19.4],[7537,20.0],[7552,19.5],[7567,20.1],[7582,19.6],[7597,20.0],[7612,19.4],[7627,19.9],[7642,19.3],[7657,19.8],[7672,19.2],[7687,19.7],[7702,19.1],[7717,19.7],[7732,19.2],[7747,19.8],[7762,19.1],[7777,19.6],[7792,19.0],[7807,19.6],[7822,19.1],[7837,19.8],[7852,19.3],[7867,19.9],[7882,19.4],[7897,20.0],[7912,19.5],[7927,20.1],[7942,19.5],[7957,19.9],[7972,19.4],[7987,20.0],[8002,19.6],[8017,20.2],[8030,20.8],[8040,22.0],[8048,25],[8055,32],[8061,45],[8066,55],[8071,61.3],[8076,55],[8082,44],[8088,31],[8095,24],[8104,21.2],[8116,20.1],[8131,19.5],[8146,20.0],[8161,19.2],[8176,19.7],[8191,19.0],[8206,19.6],[8221,18.9],[8236,19.5],[8251,18.8],[8266,19.4],[8281,18.9],[8296,19.5],[8311,18.8],[8326,19.3],[8341,18.7],[8356,19.4],[8371,18.9],[8386,19.5],[8401,19.0],[8416,19.6],[8431,19.1],[8446,19.7],[8461,19.2],[8476,19.8],[8491,19.3],[8506,19.9],[8521,19.4],[8536,19.8],[8551,19.2],[8566,19.7],[8581,19.1],[8596,19.8],[8611,19.3],[8626,19.9],[8641,19.4],[8656,19.8],[8671,19.2],[8686,19.7],[8701,19.1],[8716,19.6],[8731,19.0],[8746,19.7],[8760,20.4],[8772,21.6],[8782,24],[8790,30],[8796,35],[8800,38],[8805,35],[8811,29],[8818,24],[8827,21.2],[8840,20.0],[8855,19.4],[8870,19.9],[8885,19.2],[8900,19.7],[8915,19.0],[8930,19.6],[8945,18.9],[8960,19.5],[8975,18.8],[8990,19.4],[9005,18.9],[9020,19.5],[9035,18.8],[9050,19.3],[9065,18.7],[9080,19.4],[9095,18.9],[9110,19.5],[9125,19.0],[9140,19.6],[9155,19.1],[9170,19.7],[9185,19.2],[9200,19.8],[9215,19.3],[9230,19.9],[9245,19.4],[9260,19.8],[9275,19.2],[9290,19.8],[9305,19.3],[9320,19.9],[9335,19.2],[9350,19.7],[9365,19.1],[9380,19.6],[9395,19.0],[9410,19.6],[9425,19.1],[9440,19.7],[9455,19.2],[9470,19.8],[9485,19.3],[9498,20.0],[9508,21.4],[9516,24],[9522,30],[9527,42],[9531,53],[9536,61.3],[9541,53],[9546,42],[9552,30],[9559,24],[9568,21.0],[9580,19.8],[9595,19.2],[9610,19.7],[9625,19.0],[9640,19.5],[9655,18.9],[9670,19.4],[9685,18.8],[9700,19.3],[9715,18.7],[9730,19.2],[9745,18.6],[9760,19.1],[9775,18.5],[9790,19.0],[9805,18.4],[9820,19.0],[9835,18.5],[9850,19.1],[9865,18.6],[9880,19.2],[9895,18.7],[9910,19.3],[9925,18.8],[9940,19.4],[9955,18.9],[9970,19.5],[9985,19.0],[10000,19.4]
];

const seriesColors = ["#000000", "#e3141b", "#4a76c0"];
const markerColors = ["#000000", "#f20000", "#4472c4"];

// ---- Layout -----------------------------------------------------------
const W = 1712, H = 648;
const plot = { left: 45, right: 1678, top: 6, bottom: 551 };
const serif = "'Liberation Serif', 'Times New Roman', Times, serif";

const x = d3.scaleLinear().domain([0, 10000]).range([plot.left, plot.right]);
const y = d3.scaleLinear().domain([0, 80]).range([plot.bottom, plot.top]);

const svg = d3.select("body").append("svg")
  .attr("width", W).attr("height", H)
  .attr("viewBox", `0 0 ${W} ${H}`);

svg.append("rect").attr("width", W).attr("height", H).attr("fill", "#fff");

svg.append("defs").append("clipPath").attr("id", "plot-clip")
  .append("rect")
  .attr("x", plot.left).attr("y", plot.top)
  .attr("width", plot.right - plot.left).attr("height", plot.bottom - plot.top);

// Gridlines
const grid = svg.append("g").attr("class", "grid");
grid.selectAll("line.v").data(xTickValues.slice(1, -1)).join("line")
  .attr("x1", d => x(d)).attr("x2", d => x(d))
  .attr("y1", plot.top).attr("y2", plot.bottom)
  .attr("stroke", "#d9d9d9").attr("stroke-width", 1.4);
grid.selectAll("line.h").data(yGridValues.slice(1, -1)).join("line")
  .attr("x1", plot.left).attr("x2", plot.right)
  .attr("y1", d => y(d)).attr("y2", d => y(d))
  .attr("stroke", "#d9d9d9").attr("stroke-width", 1.4);

// Legend background masks the gridlines behind it
svg.append("rect")
  .attr("x", 249).attr("y", 30).attr("width", 1636 - 249).attr("height", 67)
  .attr("fill", "#fff");

// Spectrum lines
const line = d3.line().x(d => x(d[0])).y(d => y(d[1]));
const lines = svg.append("g").attr("clip-path", "url(#plot-clip)");
[spectrum4380, spectrum5370, spectrum6260].forEach((s, i) => {
  lines.append("path")
    .datum(s)
    .attr("d", line)
    .attr("fill", "none")
    .attr("stroke", seriesColors[i])
    .attr("stroke-width", 2)
    .attr("stroke-linejoin", "round");
});

// Harmonic markers
const mk = 11;
[harmonics4380, harmonics5370, harmonics6260].forEach((h, i) => {
  svg.append("g").selectAll("rect").data(h).join("rect")
    .attr("x", d => x(d) - mk / 2)
    .attr("y", y(harmonicLevels[i]) - mk / 2)
    .attr("width", mk).attr("height", mk)
    .attr("fill", markerColors[i]);
});

// Plot frame
svg.append("rect")
  .attr("x", plot.left).attr("y", plot.top)
  .attr("width", plot.right - plot.left).attr("height", plot.bottom - plot.top)
  .attr("fill", "none").attr("stroke", "#ababab").attr("stroke-width", 2);

// X axis labels
const xAxis = d3.axisBottom(x).tickValues(xTickValues).tickSize(0).tickFormat(d3.format("d"));
const gx = svg.append("g").attr("transform", `translate(0,${plot.bottom})`).call(xAxis);
gx.select(".domain").remove();
gx.selectAll("text")
  .attr("y", 47).attr("dy", 0)
  .attr("fill", "#000")
  .style("font-family", serif).style("font-size", "29.5px");

svg.append("text")
  .attr("x", (plot.left + plot.right) / 2).attr("y", 640)
  .attr("text-anchor", "middle")
  .style("font-family", serif).style("font-size", "30px").style("word-spacing", "6px")
  .text("Frequency (Hz)");

svg.append("text")
  .attr("transform", "translate(34,280) rotate(-90)")
  .attr("text-anchor", "middle")
  .style("font-family", serif).style("font-size", "30.5px")
  .text("20*logI");

// Legend
const legendX = [306, 768, 1231];
const legend = svg.append("g").style("font-family", serif).style("font-size", "31.5px");
seriesNames.forEach((name, i) => {
  legend.append("line")
    .attr("x1", legendX[i] - 34).attr("x2", legendX[i] - 2)
    .attr("y1", 47).attr("y2", 47)
    .attr("stroke", seriesColors[i]).attr("stroke-width", 2);
  legend.append("text").attr("x", legendX[i]).attr("y", 58).text(name);
});
harmonicNames.forEach((name, i) => {
  legend.append("rect")
    .attr("x", legendX[i] - 24).attr("y", 74)
    .attr("width", 10).attr("height", 10)
    .attr("fill", markerColors[i]);
  legend.append("text").attr("x", legendX[i]).attr("y", 90).text(name);
});

// 10 dB scale annotation
const ann = svg.append("g");
ann.append("line").attr("x1", 90).attr("x2", 90).attr("y1", 10).attr("y2", 52)
  .attr("stroke", "#000").attr("stroke-width", 2);
ann.append("path").attr("d", "M84.5,50 L95.5,50 L90,74 Z").attr("fill", "#000");
ann.append("line").attr("x1", 88).attr("x2", 88).attr("y1", 166).attr("y2", 208)
  .attr("stroke", "#000").attr("stroke-width", 2);
ann.append("path").attr("d", "M82.5,170 L93.5,170 L88,144 Z").attr("fill", "#000");
ann.append("text").attr("x", 62).attr("y", 112)
  .style("font-family", serif).style("font-size", "25px")
  .text("10 dB");

// Right margin outside the figure
svg.append("rect").attr("x", 1692).attr("y", 0).attr("width", 20).attr("height", H).attr("fill", "#fff");

// Overlay caption box
svg.append("rect").attr("x", 1433).attr("y", 158).attr("width", W - 1433).attr("height", 85).attr("fill", "#fff");
svg.append("text").attr("x", 1454).attr("y", 222)
  .style("font-family", "'Liberation Sans', Arial, sans-serif").style("font-size", "54px")
  .attr("fill", "#000")
  .text("Conventional");
</script>
</body>
</html>
